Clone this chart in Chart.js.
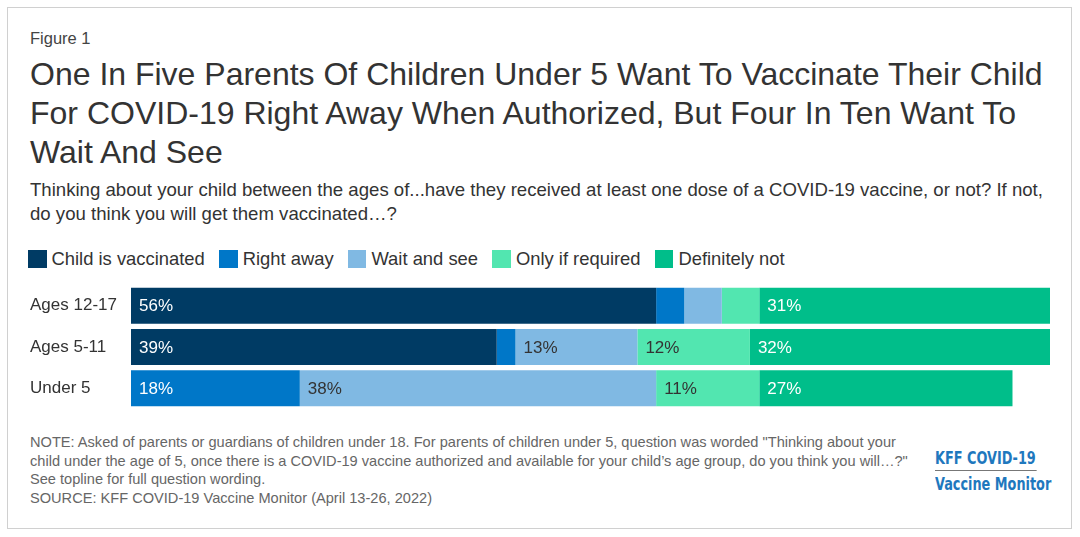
<!DOCTYPE html>
<html>
<head>
<meta charset="utf-8">
<script src="https://cdn.jsdelivr.net/npm/chart.js@4.4.1/dist/chart.umd.min.js"></script>
<style>
  body { margin: 0; background: #fff; font-family: "Liberation Sans", Arial, sans-serif; }
  #frame { position: absolute; left: 7px; top: 7px; width: 1065px; height: 522px; border: 1px solid #d0d0d0; box-sizing: border-box; }
  .txt { position: absolute; left: 30px; white-space: nowrap; }
  #fig { top: 29px; font-size: 16.5px; color: #444; }
  #title { top: 55px; font-size: 32px; line-height: 39px; color: #333; }
  #sub { top: 178px; font-size: 18.6px; line-height: 24px; color: #333; }
  #note { top: 433px; font-size: 14.6px; line-height: 18.7px; color: #666; }
  #logo { position: absolute; left: 935px; top: 448px; white-space: nowrap; font-family: "DejaVu Sans Condensed", "DejaVu Sans", sans-serif; font-weight: bold; font-size: 17px; color: #1f78be; line-height: 20px; transform: scaleX(0.84); transform-origin: 0 0; }
  #logo .l1 { border-bottom: 1.5px solid #777; padding-bottom: 2px; margin-bottom: 3px; display: inline-block; width: 121px; }
  #legend { position: absolute; left: 28px; top: 248px; white-space: nowrap; font-size: 18.4px; color: #333; }
  #legend .item { display: inline-block; margin-right: 14.3px; }
  #legend .box { display: inline-block; width: 18.5px; height: 18.5px; vertical-align: -3px; margin-right: 5px; }
  #wrap { position: absolute; left: 0; top: 280px; width: 1080px; height: 134px; }
</style>
</head>
<body>
<div id="frame"></div>
<div class="txt" id="fig">Figure 1</div>
<div class="txt" id="title">One In Five Parents Of Children Under 5 Want To Vaccinate Their Child<br>For COVID-19 Right Away When Authorized, But Four In Ten Want To<br>Wait And See</div>
<div class="txt" id="sub">Thinking about your child between the ages of...have they received at least one dose of a COVID-19 vaccine, or not? If not,<br>do you think you will get them vaccinated…?</div>
<div id="legend"></div>
<div id="wrap"><canvas id="myChart"></canvas></div>
<div class="txt" id="note">NOTE: Asked of parents or guardians of children under 18. For parents of children under 5, question was worded "Thinking about your<br>child under the age of 5, once there is a COVID-19 vaccine authorized and available for your child’s age group, do you think you will…?"<br>See topline for full question wording.<br>SOURCE: KFF COVID-19 Vaccine Monitor (April 13-26, 2022)</div>
<div id="logo"><span class="l1">KFF COVID-19</span><br>Vaccine Monitor</div>
<script>
const ctx = document.getElementById("myChart");

// categories and series (percent)
const groups = ["Ages 12-17", "Ages 5-11", "Under 5"];
const vaccinated = [56, 39, 0];
const rightAway = [3, 2, 18];
const waitAndSee = [4, 13, 38];
const onlyIfRequired = [4, 12, 11];
const definitelyNot = [31, 32, 27];

const seriesNames = ["Child is vaccinated", "Right away", "Wait and see", "Only if required", "Definitely not"];
const seriesData = [vaccinated, rightAway, waitAndSee, onlyIfRequired, definitelyNot];
const colors = ["#003b64", "#0077c8", "#80b9e3", "#52e6b0", "#00be8a"];
const labelColors = ["#fff", "#fff", "#333", "#333", "#fff"];

// legend in html
const legendEl = document.getElementById("legend");
seriesNames.forEach((name, i) => {
  const item = document.createElement("span");
  item.className = "item";
  item.innerHTML = '<span class="box" style="background:' + colors[i] + '"></span>' + name;
  legendEl.appendChild(item);
});

// draw the % labels at the start of each segment
const segLabels = {
  id: "segLabels",
  afterDatasetsDraw(chart) {
    const c = chart.ctx;
    c.save();
    c.font = "17px 'Liberation Sans', Arial, sans-serif";
    c.textBaseline = "middle";
    c.textAlign = "left";
    chart.data.datasets.forEach((ds, i) => {
      chart.getDatasetMeta(i).data.forEach((bar, j) => {
        const v = ds.data[j];
        if (v < 5) return;
        const left = Math.min(bar.x, bar.base);
        c.fillStyle = labelColors[i];
        c.fillText(v + "%", left + 8, bar.y + 1);
      });
    });
    c.restore();
  }
};

new Chart(ctx, {
  type: "bar",
  data: {
    labels: groups,
    datasets: seriesNames.map((name, i) => ({
      label: name,
      data: seriesData[i],
      backgroundColor: colors[i],
      borderWidth: 0,
      barPercentage: 0.87,
      categoryPercentage: 1,
    })),
  },
  options: {
    indexAxis: "y",
    responsive: true,
    maintainAspectRatio: false,
    animation: false,
    layout: { padding: { left: 30, right: 30, top: 5, bottom: 5 } },
    scales: {
      x: { stacked: true, min: 0, max: 98, display: false },
      y: {
        stacked: true,
        grid: { display: false },
        border: { display: false },
        ticks: {
          crossAlign: "far",
          color: "#333",
          font: { size: 17, family: "'Liberation Sans', Arial, sans-serif" },
        },
        afterFit(scale) {
          scale.width = 101;
          scale.paddingTop = 0;
          scale.paddingBottom = 0;
        },
      },
    },
    plugins: {
      legend: { display: false },
      tooltip: { enabled: false },
    },
  },
  plugins: [segLabels],
});
</script>
</body>
</html>
